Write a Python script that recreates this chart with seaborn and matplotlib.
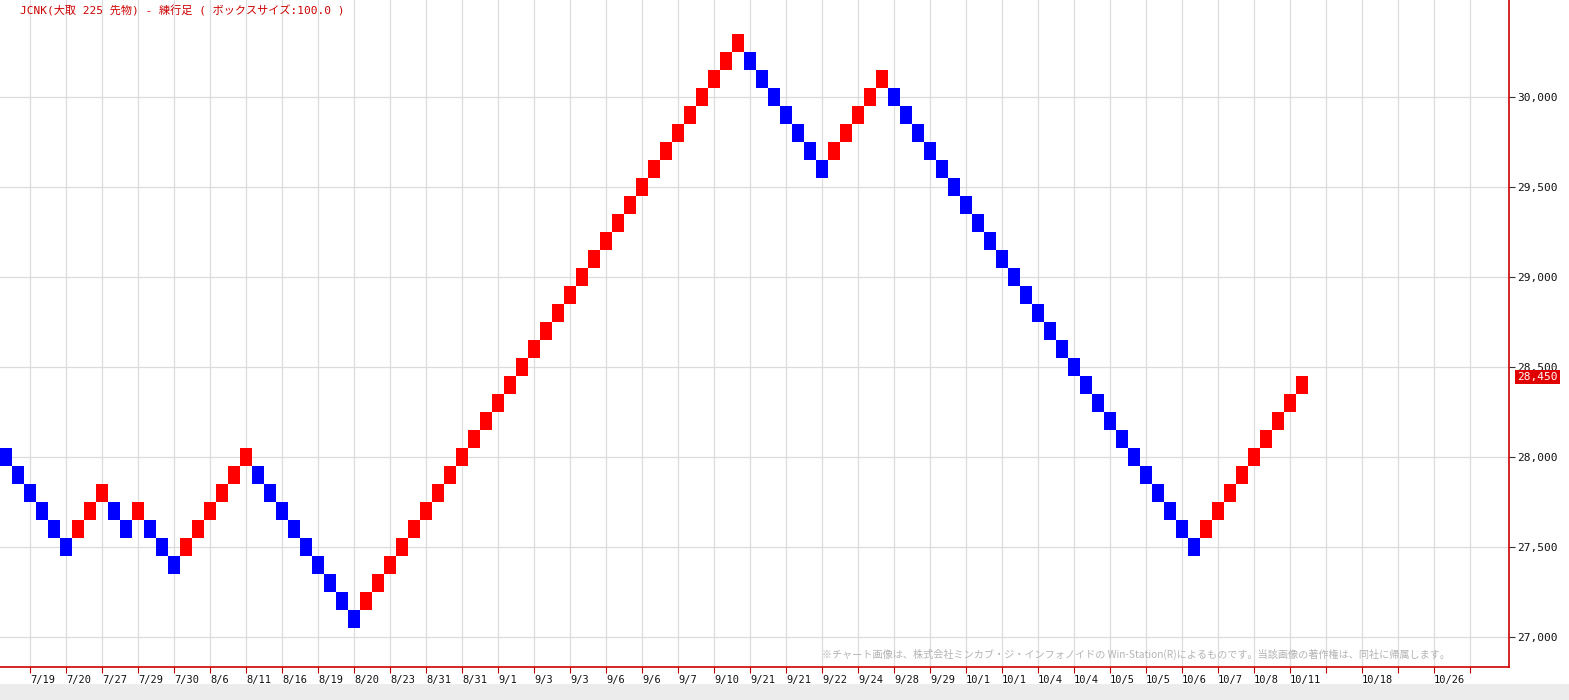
import numpy as np
import pandas as pd
import seaborn as sns
import matplotlib.pyplot as plt
from matplotlib.transforms import ScaledTranslation

# renko box size and the low of every brick, left to right
BOX = 100
brick_low = [
    27950, 27850, 27750, 27650, 27550, 27450,
    27550, 27650, 27750,
    27650, 27550,
    27650,
    27550, 27450, 27350,
    27450, 27550, 27650, 27750, 27850, 27950,
    27850, 27750, 27650, 27550, 27450, 27350, 27250, 27150, 27050,
    27150, 27250, 27350, 27450, 27550, 27650, 27750, 27850, 27950, 28050,
    28150, 28250, 28350, 28450, 28550, 28650, 28750, 28850, 28950, 29050,
    29150, 29250, 29350, 29450, 29550, 29650, 29750, 29850, 29950, 30050,
    30150, 30250,
    30150, 30050, 29950, 29850, 29750, 29650, 29550,
    29650, 29750, 29850, 29950, 30050,
    29950, 29850, 29750, 29650, 29550, 29450, 29350, 29250, 29150, 29050,
    28950, 28850, 28750, 28650, 28550, 28450, 28350, 28250, 28150, 28050,
    27950, 27850, 27750, 27650, 27550, 27450,
    27550, 27650, 27750, 27850, 27950, 28050, 28150, 28250, 28350,
]
last_price = 28450

tick_pos = list(range(2, 123, 3))
tick_labels = [
    '7/19', '7/20', '7/27', '7/29', '7/30', '8/6', '8/11', '8/16', '8/19', '8/20',
    '8/23', '8/31', '8/31', '9/1', '9/3', '9/3', '9/6', '9/6', '9/7', '9/10',
    '9/21', '9/21', '9/22', '9/24', '9/28', '9/29', '10/1', '10/1', '10/4', '10/4',
    '10/5', '10/5', '10/6', '10/7', '10/8', '10/11', '', '10/18', '', '10/26', '',
]
y_ticks = [27000, 27500, 28000, 28500, 29000, 29500, 30000]

title = 'JCNK(大取 225 先物) - 練行足 ( ボックスサイズ:100.0 )'
note = ('※チャート画像は、株式会社ミンカブ・ジ・インフォノイドの Win-Station(R)'
        'によるものです。当該画像の著作権は、同社に帰属します。')

df = pd.DataFrame({'low': brick_low})
df['idx'] = np.arange(len(df))
# first brick is a down brick, the rest follow the move from the previous one
df['up'] = df['low'].diff().fillna(-1) > 0
df['color'] = np.where(df['up'], '#ff0000', '#0000ff')

sns.set_theme(style='white')
plt.rcParams['font.family'] = ['DejaVu Sans Mono', 'Noto Sans CJK JP']

fig = plt.figure(figsize=(15.69, 7.0), dpi=100)
ax = fig.add_axes([0, 33 / 700, 1509 / 1569, 667 / 700])

ax.bar(df['idx'], BOX, bottom=df['low'], width=1.0, color=df['color'],
       linewidth=0, zorder=3)

ax.set_xlim(-0.5, 125.25)
ax.set_ylim(26836, 30540)

ax.set_xticks(tick_pos)
ax.set_xticklabels(tick_labels, ha='left', fontsize=7.5, color='#111111')
off = ScaledTranslation(2 / 100, 0, fig.dpi_scale_trans)
for lab in ax.get_xticklabels():
    lab.set_transform(lab.get_transform() + off)

ax.yaxis.tick_right()
ax.set_yticks(y_ticks)
ax.set_yticklabels([f'{v:,}' for v in y_ticks], fontsize=8, color='#111111')

ax.tick_params(axis='x', length=4, width=0.8, color='#c00000', pad=2, bottom=True)
ax.tick_params(axis='y', length=4, width=0.8, color='#333333', pad=2, right=True)

ax.grid(True, color='#dcdcdc', linewidth=0.9, zorder=0)
for side in ['top', 'left']:
    ax.spines[side].set_visible(False)
for side in ['right', 'bottom']:
    ax.spines[side].set_visible(True)
    ax.spines[side].set_color('#d00000')
    ax.spines[side].set_linewidth(1.2)

# current price tag on the axis
ax.text(1.0055, last_price - 5, f'{last_price:,}', transform=ax.get_yaxis_transform(),
        ha='left', va='center', fontsize=8, color='white',
        bbox=dict(boxstyle='square,pad=0.18', fc='#e00000', ec='none'), zorder=5)

fig.text(20 / 1569, 1 - 11 / 700, title, fontsize=8, color='#cc0000',
         va='center', ha='left', family=['DejaVu Sans Mono', 'Noto Sans CJK JP'])
ax.text(822 / 1509, 13 / 667, note, transform=ax.transAxes, fontsize=7.3,
        color='#b4b4b4', va='center', ha='left',
        family=['Noto Sans CJK JP', 'DejaVu Sans'])

# scrollbar strip at the bottom of the window
fig.patches.append(plt.Rectangle((0, 0), 1, 16 / 700, transform=fig.transFigure,
                                 fc='#ececec', ec='none', zorder=0))

fig.savefig('out.png', dpi=100, facecolor='white')
